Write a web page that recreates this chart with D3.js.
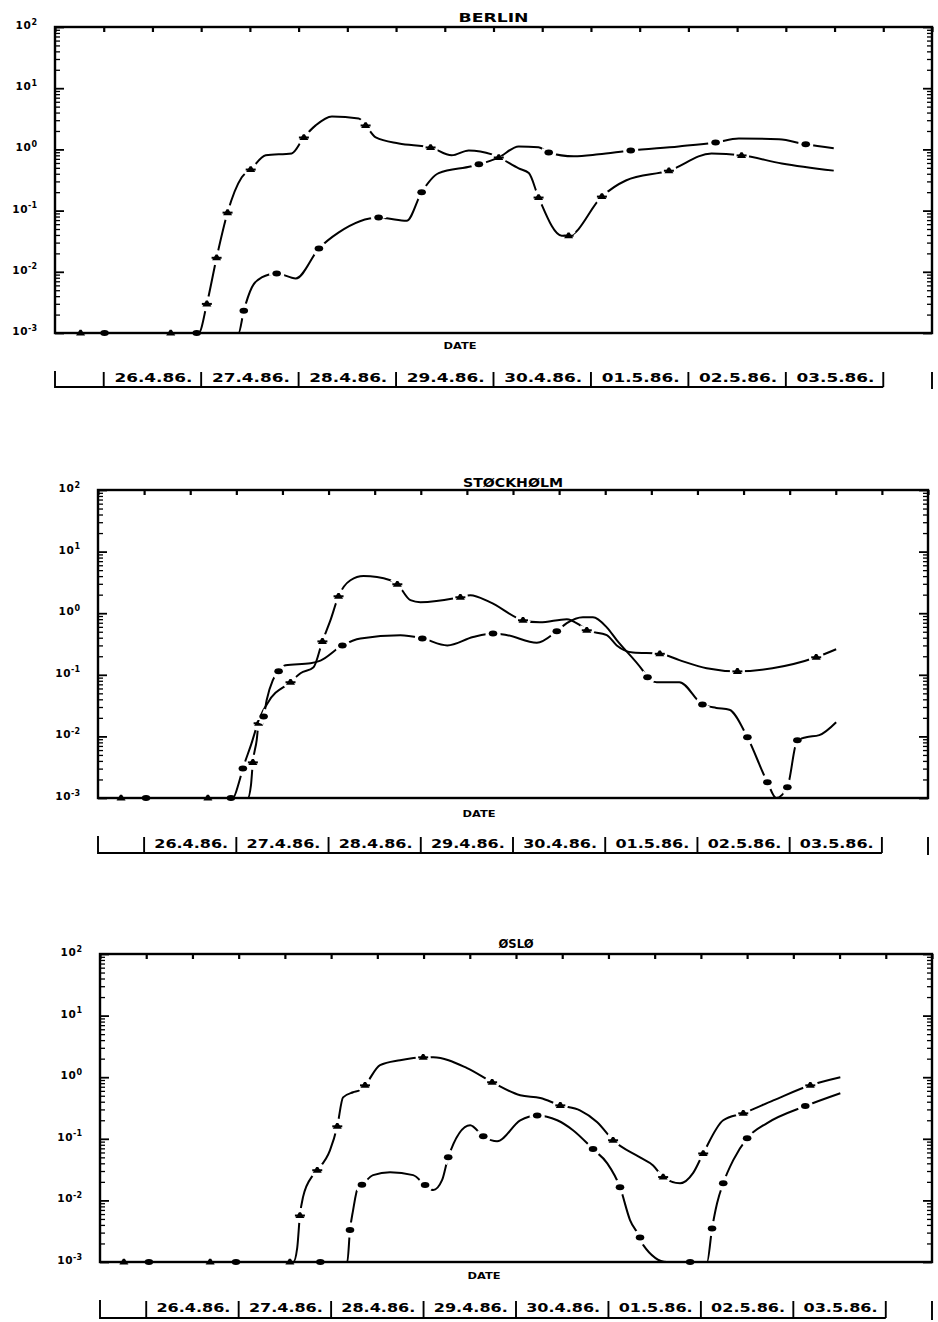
<!DOCTYPE html>
<html><head><meta charset="utf-8">
<script src="https://cdn.jsdelivr.net/npm/d3@7"></script>
<style>body{margin:0;background:#fff}svg{display:block}</style>
</head><body>
<svg id="c" width="938" height="1322"></svg>
<script>
// ---- data ----
// time: hours since 26.4.86 00:00 ; value: concentration ; third field 1 = plotted marker
const dateLabels = ["26.4.86.","27.4.86.","28.4.86.","29.4.86.","30.4.86.","01.5.86.","02.5.86.","03.5.86."];
const yTickExps = [2,1,0,-1,-2,-3];
const timeDomain = [-12, 204];
const topTickStep = 12;
const stationNames = ["BERLIN","STØCKHØLM","ØSLØ"];
const axisTitle = "DATE";

const berlinA = [[-12,0.001],[-5.7,0.001,1],[16.5,0.001,1],[23.4,0.001],[25.4,0.0030,1],[27.8,0.017,1],[30.5,0.093,1],[34.0,0.35],[36.2,0.47,1],[39.9,0.80],[46.3,0.86],[49.3,1.57,1],[52.2,2.47],[56.2,3.46],[62.8,3.2],[64.5,2.47,1],[67.0,1.57],[72.7,1.25],[80.5,1.08,1],[85.7,0.80],[89.9,0.96],[95.6,0.83],[97.3,0.74,1],[102.2,0.49],[104.7,0.41],[107.1,0.164,1],[112.8,0.039],[114.5,0.039,1],[122.7,0.17,1],[128.6,0.31],[139.2,0.45,1],[149.7,0.86],[157.1,0.80,1],[167.0,0.59],[179.8,0.45]];
const berlinB = [[-12,0.001],[0.2,0.001,1],[22.9,0.001,1],[33.2,0.001],[34.5,0.0023,1],[36.5,0.0056],[38.9,0.0081],[42.6,0.0094,1],[47.3,0.0078],[53.0,0.024,1],[57.9,0.044],[67.7,0.077,1],[69.7,0.075],[74.6,0.068],[78.3,0.20,1],[82.5,0.41],[90.6,0.53],[92.4,0.57,1],[97.3,0.74],[102.2,1.12],[107.1,1.08],[109.6,0.89,1],[115.8,0.77],[121.9,0.83],[129.8,0.96,1],[141.6,1.12],[150.7,1.30,1],[156.4,1.51],[166.3,1.46],[172.9,1.21,1],[179.8,1.04]];

const stockholmA = [[-12,0.001],[-6.0,0.001,1],[16.6,0.001,1],[27.0,0.001],[27.8,0.0016],[28.3,0.0038,1],[29.3,0.0087],[29.8,0.0164,1],[32.2,0.035],[38.1,0.076,1],[40.7,0.106],[44.1,0.133],[46.4,0.35,1],[48.5,0.77],[50.6,1.89,1],[53.7,3.43],[57.1,4.0],[64.1,3.43],[65.9,2.96,1],[69.3,1.63],[71.9,1.51],[82.3,1.82,1],[84.9,1.96],[90.0,1.51],[98.6,0.77,1],[103.0,0.71],[110.0,0.80],[113.4,0.64],[115.2,0.53,1],[120.4,0.44],[123.0,0.30],[127.2,0.23],[134.2,0.22,1],[139.3,0.173],[146.4,0.128],[154.4,0.114,1],[163.5,0.128],[174.9,0.193,1],[180.1,0.26]];
const stockholmB = [[-12,0.001],[0.5,0.001,1],[22.6,0.001,1],[23.1,0.001],[24.7,0.0018],[25.7,0.0030,1],[27.8,0.0072],[29.8,0.017],[31.1,0.021,1],[31.9,0.039],[33.5,0.082],[35.0,0.114,1],[36.8,0.143],[43.3,0.154],[45.9,0.17],[51.6,0.30,1],[56.3,0.39],[66.7,0.44],[72.4,0.39,1],[78.9,0.30],[85.6,0.41],[90.8,0.47,1],[94.5,0.44],[102.2,0.33],[107.4,0.51,1],[110.0,0.69],[114.2,0.86],[116.8,0.86],[120.4,0.59],[123.0,0.365],[129.7,0.119],[131.0,0.091,1],[133.4,0.076],[139.3,0.076],[145.3,0.033,1],[148.9,0.029],[152.3,0.027],[157.0,0.0097,1],[162.2,0.0018,1],[164.5,0.001],[167.4,0.0015,1],[170.0,0.0087,1],[172.3,0.0097],[175.7,0.0105],[180.1,0.017]];

const osloA = [[-12,0.001],[-5.8,0.001,1],[16.6,0.001,1],[37.3,0.001,1],[38.2,0.001],[39.2,0.0017],[39.9,0.0057,1],[40.7,0.0113],[43.3,0.0257],[44.4,0.031,1],[47.7,0.065],[49.6,0.16,1],[51.1,0.47],[53.7,0.57],[55.5,0.62],[56.8,0.74,1],[60.7,1.57],[65.9,1.89],[71.9,2.11,1],[74.5,2.11],[83.3,1.40],[89.8,0.83,1],[97.1,0.51],[102.3,0.46],[107.5,0.35,1],[112.6,0.29],[117.1,0.186],[121.2,0.095,1],[128.2,0.050],[131.6,0.037],[134.2,0.024,1],[138.6,0.019],[142.0,0.028],[144.6,0.058,1],[149.8,0.20],[155.0,0.26,1],[162.8,0.42],[172.4,0.74,1],[180.2,1.0]];
const osloB = [[-12,0.001],[0.7,0.001,1],[23.3,0.001,1],[45.2,0.001,1],[52.2,0.001],[52.9,0.0033,1],[53.7,0.0069],[55.0,0.0164],[56.0,0.018,1],[58.9,0.0257],[63.3,0.0287],[69.3,0.0257],[72.4,0.0177,1],[74.5,0.0147],[76.8,0.0213],[78.4,0.050,1],[84.1,0.166],[87.5,0.110,1],[91.1,0.091],[97.1,0.20],[101.5,0.24,1],[106.7,0.20],[110.8,0.138],[116.0,0.068,1],[119.7,0.040],[123.0,0.0164,1],[125.6,0.0048],[128.2,0.0025,1],[129.0,0.0019],[135.2,0.001],[141.2,0.001,1],[145.6,0.001],[146.9,0.0035,1],[148.2,0.009],[149.8,0.019,1],[152.4,0.045],[156.0,0.102,1],[161.2,0.18],[171.1,0.34,1],[180.2,0.55]];

// ---- layout ----
const panels = [
  {name:stationNames[0], A:berlinA, B:berlinB, left:55, right:932, top:27, bottom:333,
   titleY:22, titleW:70, dateX:460, dateY:349, labY:382, lineY:387, sepTop:372},
  {name:stationNames[1], A:stockholmA, B:stockholmB, left:98, right:928, top:490, bottom:798,
   titleY:487, titleW:100, dateX:479, dateY:817, labY:848, lineY:853, sepTop:837},
  {name:stationNames[2], A:osloA, B:osloB, left:100, right:932, top:954, bottom:1262,
   titleY:948, titleW:35, dateX:484, dateY:1279, labY:1312, lineY:1318, sepTop:1301}
];

const svg = d3.select("#c");
const FONT = "'DejaVu Sans', sans-serif";

const minorVals = [];
for (let e = -3; e < 2; e++) for (let k = 2; k < 10; k++) minorVals.push(k * Math.pow(10, e));
const majorVals = yTickExps.map(e => Math.pow(10, e));

panels.forEach(p => {
  const x = d3.scaleLinear().domain(timeDomain).range([p.left, p.right]);
  const y = d3.scaleLog().domain([1e-3, 1e2]).range([p.bottom, p.top]).clamp(true);
  const g = svg.append("g");

  // y axes ticks (inside)
  [[d3.axisRight, p.left], [d3.axisLeft, p.right]].forEach(([gen, xp]) => {
    [[minorVals, 5, 1.3], [majorVals, 9, 1.8]].forEach(([vals, sz, sw]) => {
      const a = g.append("g").attr("transform", `translate(${xp},0)`)
        .call(gen(y).tickValues(vals).tickSize(sz).tickSizeOuter(0).tickFormat(""));
      a.select(".domain").remove();
      a.selectAll("line").attr("stroke", "#000").attr("stroke-width", sw);
    });
  });
  // top ticks
  const topTicks = d3.range(timeDomain[0], timeDomain[1] + 1, topTickStep);
  const ta = g.append("g").attr("transform", `translate(0,${p.top})`)
    .call(d3.axisBottom(x).tickValues(topTicks).tickSize(5).tickSizeOuter(0).tickFormat(""));
  ta.select(".domain").remove();
  ta.selectAll("line").attr("stroke", "#000").attr("stroke-width", 2.2);

  // frame
  g.append("rect").attr("x", p.left).attr("y", p.top)
    .attr("width", p.right - p.left).attr("height", p.bottom - p.top)
    .attr("fill", "none").attr("stroke", "#000").attr("stroke-width", 2.4);

  // y labels
  yTickExps.forEach(e => {
    const t = g.append("text").attr("x", p.left - 18).attr("y", y(Math.pow(10, e)) + 2)
      .attr("text-anchor", "end").attr("font-family", FONT).attr("font-weight", "bold")
      .attr("font-size", 10.5).attr("fill", "#000");
    t.append("tspan").text("10").attr("letter-spacing", 0.6);
    t.append("tspan").text(String(e)).attr("font-size", 8).attr("dy", -4.5);
  });

  // title
  g.append("text").attr("x", (p.left + p.right) / 2).attr("y", p.titleY)
    .attr("text-anchor", "middle").attr("font-family", FONT).attr("font-weight", "bold")
    .attr("font-size", 11.5).attr("textLength", p.titleW).attr("lengthAdjust", "spacingAndGlyphs")
    .text(p.name);

  // DATE label
  g.append("text").attr("x", p.dateX).attr("y", p.dateY).attr("text-anchor", "middle")
    .attr("font-family", FONT).attr("font-weight", "bold").attr("font-size", 8)
    .attr("textLength", 33).attr("lengthAdjust", "spacingAndGlyphs").text(axisTitle);

  // curves
  const line = d3.line().x(d => x(d[0])).y(d => y(d[1])).curve(d3.curveMonotoneX);
  [p.A, p.B].forEach(s => {
    g.append("path").attr("d", line(s)).attr("fill", "none")
      .attr("stroke", "#000").attr("stroke-width", 2).attr("stroke-linejoin", "round");
  });
  // markers
  [p.A, p.B].forEach((s, si) => {
    s.forEach((d, i) => {
      if (!d[2]) return;
      const px = x(d[0]), py = y(d[1]);
      const pr = s[Math.max(0, i - 1)], nx = s[Math.min(s.length - 1, i + 1)];
      const ang = Math.atan2(y(nx[1]) - y(pr[1]), x(nx[0]) - x(pr[0])) * 180 / Math.PI;
      if (d[1] > 0.0011) {
        g.append("rect").attr("x", px - 7.5).attr("y", py - 2.4).attr("width", 15).attr("height", 4.8)
          .attr("fill", "#fff").attr("transform", `rotate(${ang},${px},${py})`);
      }
      if (si === 0) {
        g.append("path").attr("d", `M${px-4.5},${py+2.6}L${px-1},${py-3.2}L${px+1},${py-3.2}L${px+4.5},${py+2.6}Z`).attr("fill", "#000");
        g.append("rect").attr("x", px - 5).attr("y", py - 0.9).attr("width", 10).attr("height", 2).attr("fill", "#000");
      } else {
        g.append("ellipse").attr("cx", px).attr("cy", py).attr("rx", 4.3).attr("ry", 3).attr("fill", "#000");
      }
    });
  });

  // date strip
  const days = d3.range(0, dateLabels.length + 1).map(k => k * 24);
  const sw = g.append("g").attr("stroke", "#000").attr("stroke-width", 1.9).attr("fill", "none");
  sw.append("path").attr("d", `M${x(timeDomain[0])},${p.sepTop - 1}V${p.lineY}H${x(days[days.length - 1])}`);
  days.forEach(h => sw.append("line").attr("x1", x(h)).attr("x2", x(h))
    .attr("y1", p.sepTop).attr("y2", p.lineY));
  sw.append("line").attr("x1", x(timeDomain[1])).attr("x2", x(timeDomain[1]))
    .attr("y1", p.sepTop).attr("y2", p.lineY + 2);
  const bw = x(24) - x(0);
  dateLabels.forEach((lab, k) => {
    g.append("text").attr("x", x(k * 24 + 12) + 1).attr("y", p.labY).attr("text-anchor", "middle")
      .attr("font-family", FONT).attr("font-weight", "bold").attr("font-size", 11.5)
      .attr("textLength", bw * 0.8).attr("lengthAdjust", "spacingAndGlyphs").text(lab);
  });
});
</script>
</body></html>
